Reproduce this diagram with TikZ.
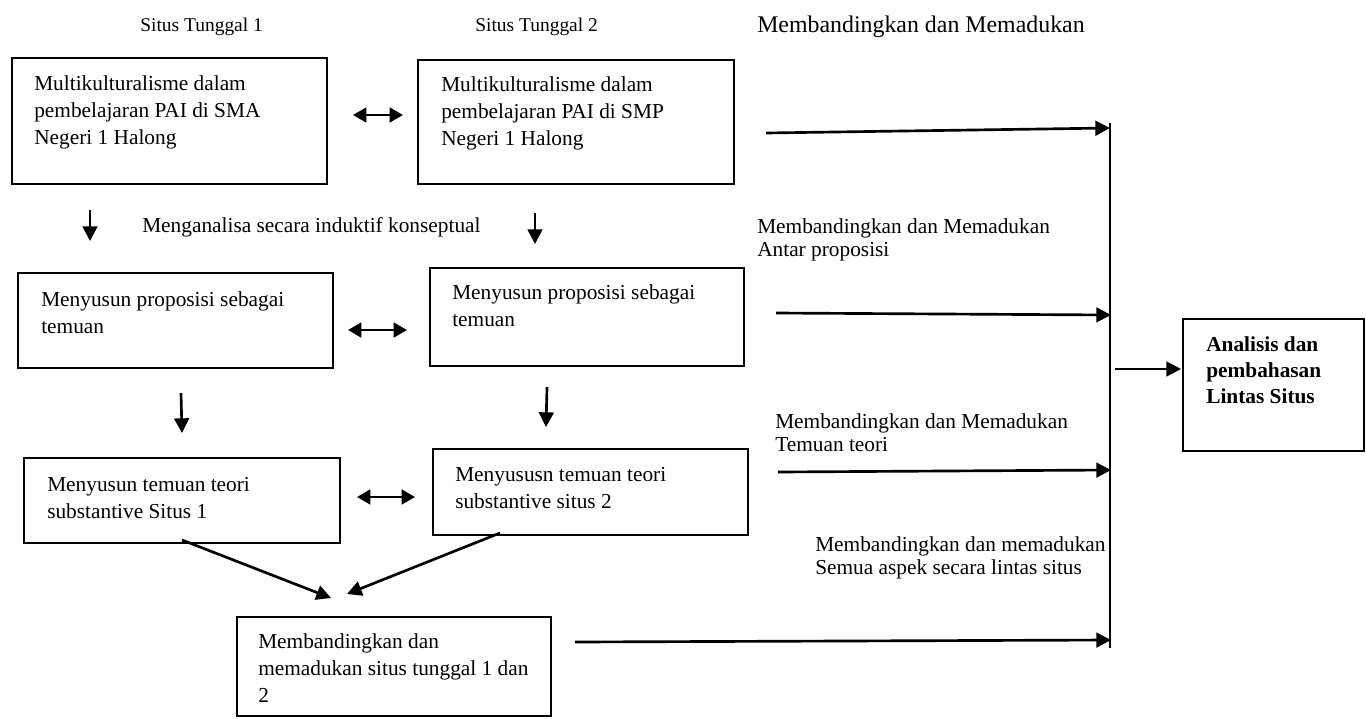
\documentclass[tikz,border=0pt]{standalone}
\usepackage{fontspec}
\setmainfont{Liberation Serif}
\usetikzlibrary{arrows.meta}
\begin{document}
\begin{tikzpicture}[x=0.75pt,y=-0.75pt,
  box/.style={draw, line width=2pt, rectangle, inner sep=0pt, outer sep=0pt, anchor=north west},
  txt/.style={anchor=base west, align=left, inner sep=0pt, font=\fontsize{16}{20.25}\selectfont},
  lbl/.style={anchor=base west, align=left, inner sep=0pt, font=\fontsize{16}{17.25}\selectfont},
  hdr/.style={anchor=base west, inner sep=0pt},
  arr/.style={line width=2pt, -{Triangle[length=11pt,width=11pt]}},
  darr/.style={line width=2pt, {Triangle[length=10pt,width=11pt]}-{Triangle[length=10pt,width=11pt]}},
  ln/.style={line width=2pt}
]
\useasboundingbox (0,0) rectangle (1366,718);

% headers
\node[hdr, font=\fontsize{14.6}{18}\selectfont] (h1) at (140,31) {Situs Tunggal 1};
\node[hdr, font=\fontsize{14.6}{18}\selectfont] (h2) at (475,31) {Situs Tunggal 2};
\node[hdr, font=\fontsize{17.9}{21}\selectfont] (h3) at (757,32) {Membandingkan dan Memadukan};

% boxes
\node[box, minimum width=236.25pt, minimum height=94.5pt] (A) at (12,58) {};
\node[box, minimum width=237pt, minimum height=93pt] (B) at (418,60) {};
\node[box, minimum width=236.25pt, minimum height=71.25pt] (C) at (18,273) {};
\node[box, minimum width=235.5pt, minimum height=73.5pt] (D) at (430,268) {};
\node[box, minimum width=237pt, minimum height=63.75pt] (E) at (24,458) {};
\node[box, minimum width=236.25pt, minimum height=64.5pt] (F) at (433,449) {};
\node[box, minimum width=235.5pt, minimum height=74.25pt] (G) at (237,617) {};
\node[box, minimum width=135.75pt, minimum height=99pt] (H) at (1183,319) {};

% box texts (anchor = baseline of last line)
\node[txt] (tA) at (34,144) {Multikulturalisme dalam\\pembelajaran PAI di SMA\\Negeri 1 Halong};
\node[txt] (tB) at (441,145) {Multikulturalisme dalam\\pembelajaran PAI di SMP\\Negeri 1 Halong};
\node[txt] (tC) at (41,333) {Menyusun proposisi sebagai\\temuan};
\node[txt] (tD) at (452,326) {Menyusun proposisi sebagai\\temuan};
\node[txt] (tE) at (47,518) {Menyusun temuan teori\\substantive Situs 1};
\node[txt] (tF) at (455,508) {Menyususn temuan teori\\substantive situs 2};
\node[txt] (tG) at (258,702) {Membandingkan dan\\memadukan situs tunggal 1 dan\\2};
\node[txt, font=\fontsize{16}{19.5}\selectfont\bfseries] (tH) at (1206,403) {Analisis dan\\pembahasan\\Lintas Situs};

% free labels
\node[lbl] (l1) at (142,232) {Menganalisa secara induktif konseptual};
\node[lbl] (l2) at (757,256) {Membandingkan dan Memadukan\\Antar proposisi};
\node[lbl] (l3) at (775,451) {Membandingkan dan Memadukan\\Temuan teori};
\node[lbl] (l4) at (815,574) {Membandingkan dan memadukan\\Semua aspek secara lintas situs};

% coordinates for arrows
\coordinate (ab1) at (353,115); \coordinate (ab2) at (403,115);
\coordinate (cd1) at (348,330); \coordinate (cd2) at (407,330);
\coordinate (ef1) at (357,497); \coordinate (ef2) at (415,497);
\coordinate (ac1) at (90,210);  \coordinate (ac2) at (90,241);
\coordinate (bd1) at (535,213); \coordinate (bd2) at (535,244);
\coordinate (ce1) at (181,393); \coordinate (ce2) at (182,433);
\coordinate (df1) at (547,387); \coordinate (df2) at (546,427);
\coordinate (eg1) at (182,540); \coordinate (eg2) at (331,598);
\coordinate (fg1) at (500,533); \coordinate (fg2) at (347,594);
\coordinate (vt) at (1110,123); \coordinate (vb) at (1110,648);
\coordinate (r1a) at (766,133); \coordinate (r1b) at (1110,128);
\coordinate (r2a) at (776,313); \coordinate (r2b) at (1111,315);
\coordinate (r3a) at (778,472); \coordinate (r3b) at (1111,470);
\coordinate (r4a) at (575,642); \coordinate (r4b) at (1111,640);
\coordinate (hh1) at (1115,369); \coordinate (hh2) at (1181,369);

\draw[darr] (ab1) -- (ab2);
\draw[darr] (cd1) -- (cd2);
\draw[darr] (ef1) -- (ef2);
\draw[arr] (ac1) -- (ac2);
\draw[arr] (bd1) -- (bd2);
\draw[arr] (ce1) -- (ce2);
\draw[arr] (df1) -- (df2);
\draw[arr] (eg1) -- (eg2);
\draw[arr] (fg1) -- (fg2);
\draw[ln] (vt) -- (vb);
\draw[arr] (r1a) -- (r1b);
\draw[arr] (r2a) -- (r2b);
\draw[arr] (r3a) -- (r3b);
\draw[arr] (r4a) -- (r4b);
\draw[arr] (hh1) -- (hh2);
\end{tikzpicture}
\end{document}
